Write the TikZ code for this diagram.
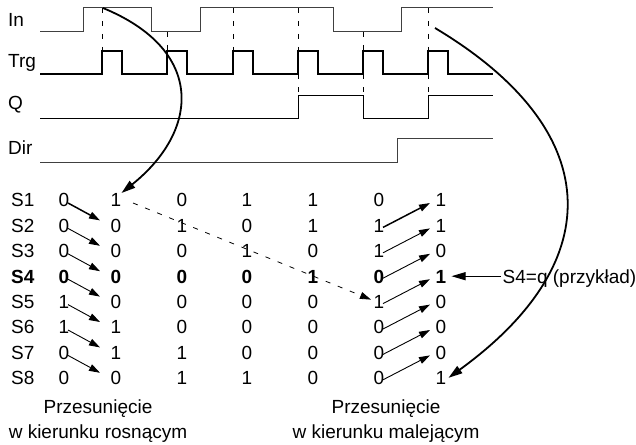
\documentclass[tikz,border=0pt]{standalone}
\usepackage{fontspec}
\setmainfont{Liberation Sans}
\usetikzlibrary{arrows.meta, positioning, calc}
\def\rowTop{200}
\def\rowH{25.4}
\def\colX{{64,116,182,247,313,379,441}}

\begin{document}
\begin{tikzpicture}[
    x=1pt, y=-1pt,
    >={Triangle[length=11pt,width=7pt]},
    every node/.style={font=\fontsize{19}{25}\selectfont, inner sep=0pt},
    digit/.style={text height=13.6pt, text depth=0pt, minimum width=10.6pt},
    wave/.style={line width=1pt, black!75},
    guide/.style={dash pattern=on 5pt off 8pt, line width=0.8pt},
    move/.style={->, line width=0.9pt},
    bigarrow/.style={->, line width=1.8pt, >={Triangle[length=14pt,width=8.5pt]}}
]
\useasboundingbox (0,0) rectangle (636,444);

% signal names
\node[anchor=base west] (lIn) at (8,27) {In};
\node[anchor=base west] (lTrg) at (8,67) {Trg};
\node[anchor=base west] (lQ) at (8,109) {Q};
\node[anchor=base west] (lDir) at (8,154) {Dir};

% waveforms
\draw[wave] (40,32) -| (83,8) -| (151,32) -| (200,8) -| (333,32) -| (401,8) -- (493,8);
\draw[wave, line width=1.3pt, black] (40,74)
    \foreach \t in {102,167,233,298,363,428} { -| (\t,51) -| (\t+20,74) } -- (493,74);
\draw[wave, black] (40,118) -| (298,95) -| (363,118) -| (428,95) -- (493,95);
\draw[wave] (40,162) -| (397,138) -- (493,138);

% trigger instants
\foreach \t/\lv in {102/8,167/32,233/8,298/8,363/32,428/8}
    \draw[guide] (\t,\lv) -- (\t,51);
\foreach \t in {298,363,428}
    \draw[guide] (\t,74) -- (\t,95);

% register contents
\foreach \vals [count=\r] in {{0,1,0,1,1,0,1},{0,0,1,0,1,1,1},{0,0,0,1,0,1,0},{0,0,0,0,1,0,1},
                              {1,0,0,0,0,1,0},{1,1,0,0,0,0,0},{0,1,1,0,0,0,0},{0,0,1,1,0,0,1}} {
    \pgfmathsetmacro\yy{\rowTop+(\r-1)*\rowH}
    \node[digit, anchor=west] (s\r) at (11,\yy) {\ifnum\r=4\bfseries\fi S\r};
    \foreach \v [count=\c from 0] in \vals {
        \pgfmathsetmacro\xx{\colX[\c]}
        \node[digit] (d\r-\c) at (\xx,\yy) {\ifnum\r=4\bfseries\fi\v};
    }
}

% shifting up and down
\foreach \r in {1,...,7} {
    \pgfmathtruncatemacro\n{\r+1}
    \pgfmathsetmacro\lw{\r==1 ? 1.5 : 0.9}
    \draw[move, line width=\lw pt] ($(d\r-0.center)+(4,3)$) -- ($(d\n-1.center)+(-16,-5)$);
    \draw[move, line width=\lw pt] ($(d\n-5.center)+(4,2)$) -- ($(d\r-6.center)+(-11,3)$);
}
\draw[guide, ->] ($(d1-1.center)+(17,3)$) -- ($(d5-5.center)+(-8,-2)$);

% where the new bit comes from
\coordinate (inA) at (103,8);
\coordinate (inB) at (435,28);
\draw[bigarrow] (inA) .. controls (205,50) and (200,130) .. (d1-1.north east);
\draw[bigarrow] (inB) .. controls (604,129) and (611,260) .. ($(d8-6.east)+(2,0)$);

% output
\node[digit, anchor=west, right=56pt of d4-6] (note) {S4=q (przykład)};
\draw[->, line width=1pt, >={Triangle[length=14pt,width=8pt]}] ([xshift=-2pt]note.west) -- ($(d4-6.east)+(5,0)$);

% captions
\node[anchor=base] (capL1) at (98,413) {Przesunięcie};
\node[anchor=base] (capL2) at (98,438) {w kierunku rosnącym};
\node[anchor=base] (capR1) at (386,413) {Przesunięcie};
\node[anchor=base] (capR2) at (386,438) {w kierunku malejącym};
\end{tikzpicture}
\end{document}
